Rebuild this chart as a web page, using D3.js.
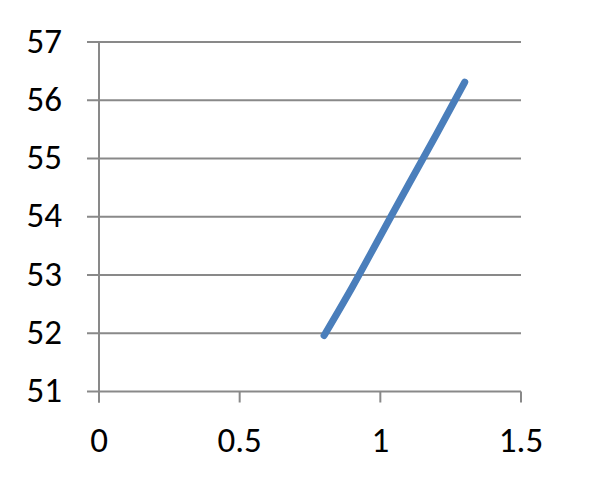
<!DOCTYPE html>
<html><head><meta charset="utf-8">
<script src="https://cdn.jsdelivr.net/npm/d3@7"></script>
<style>body{margin:0;background:#fff}</style>
</head><body>
<svg id="c" width="600" height="501"></svg>
<script>
const xVals = [0.8, 0.9, 1.0, 1.1, 1.2, 1.3];
const yVals = [51.96, 52.79, 53.67, 54.55, 55.42, 56.31];
const xTicks = [0, 0.5, 1, 1.5];
const yTicks = [51, 52, 53, 54, 55, 56, 57];

const svg = d3.select('#c');
const x = d3.scaleLinear().domain([0, 1.5]).range([99, 521]);
const y = d3.scaleLinear().domain([51, 57]).range([391.5, 42]);
const grid = '#898989';
const font = "Carlito, 'Open Sans', sans-serif";

// horizontal gridlines
svg.append('g').selectAll('line').data(yTicks).join('line')
  .attr('x1', 87).attr('x2', 521)
  .attr('y1', d => y(d)).attr('y2', d => y(d))
  .attr('stroke', grid).attr('stroke-width', 2);

// y axis line
svg.append('line').attr('x1', x(0)).attr('x2', x(0))
  .attr('y1', y(57)).attr('y2', y(51) + 11)
  .attr('stroke', grid).attr('stroke-width', 2);

// x axis ticks
svg.append('g').selectAll('line').data(xTicks).join('line')
  .attr('x1', d => x(d)).attr('x2', d => x(d))
  .attr('y1', y(51)).attr('y2', y(51) + 11)
  .attr('stroke', grid).attr('stroke-width', 2);

// y labels
svg.append('g').selectAll('text').data(yTicks).join('text')
  .attr('x', 62).attr('y', d => y(d)).attr('dy', '0.3em')
  .attr('text-anchor', 'end').attr('font-family', font).attr('font-size', 35)
  .attr('fill', '#000').text(d => d);

// x labels
svg.append('g').selectAll('text').data(xTicks).join('text')
  .attr('x', d => x(d)).attr('y', 452)
  .attr('text-anchor', 'middle').attr('font-family', font).attr('font-size', 35)
  .attr('fill', '#000').text(d => d);

// series
const pts = xVals.map((v, i) => [v, yVals[i]]);
svg.append('path').datum(pts)
  .attr('d', d3.line().x(d => x(d[0])).y(d => y(d[1])).curve(d3.curveMonotoneX))
  .attr('fill', 'none').attr('stroke', '#4a7ebb').attr('stroke-width', 7)
  .attr('stroke-linecap', 'round').attr('stroke-linejoin', 'round');
</script>
</body></html>
